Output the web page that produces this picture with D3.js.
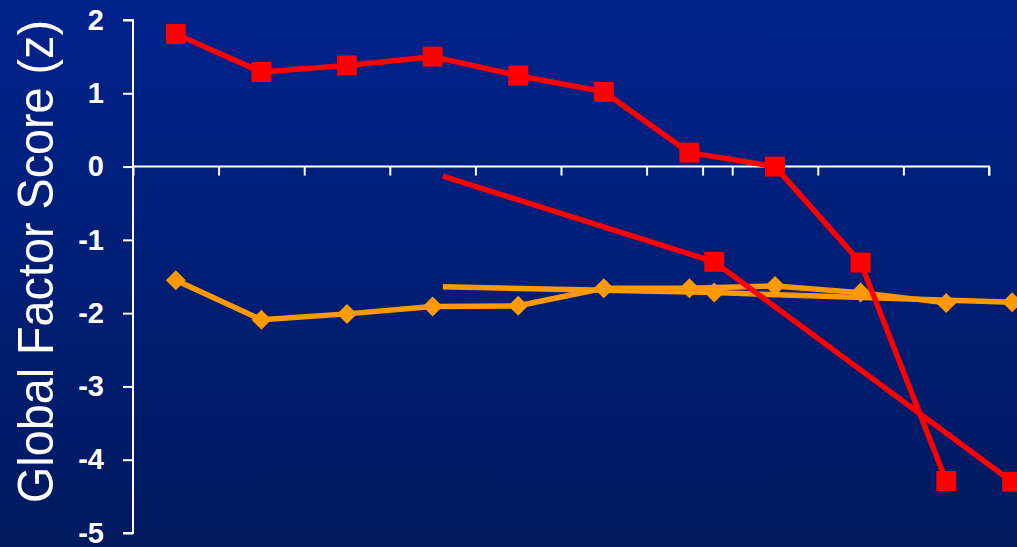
<!DOCTYPE html>
<html>
<head>
<meta charset="utf-8">
<script src="https://cdn.jsdelivr.net/npm/d3@7"></script>
<style>
  html, body { margin: 0; padding: 0; overflow: hidden; }
  body { width: 1017px; height: 547px; }
</style>
</head>
<body>
<div id="chart"></div>
<script>
// category slots along x (10 groups)
const slots = [0, 1, 2, 3, 4, 5, 6, 7, 8, 9];
const yTicks = [2, 1, 0, -1, -2, -3, -4, -5];

// main series, one value per slot
const redValues = [1.81, 1.29, 1.38, 1.50, 1.24, 1.02, 0.19, 0.0, -1.31, -4.29];
const orangeValues = [-1.55, -2.09, -2.01, -1.91, -1.90, -1.66, -1.66, -1.63, -1.72, -1.86];

// overlaid second set, placed on the same x scale (fractional positions)
const trendX = [3.62, 6.79, 10.27];
const redTrend = [-0.13, -1.30, -4.30];
const orangeTrend = [-1.64, -1.72, -1.85];
const trendMarked = [false, true, true];
const trendTick = 6.66;

const width = 1017;
const height = 547;

const svg = d3.select("#chart").append("svg")
  .attr("width", width).attr("height", height);

// background gradient
const grad = svg.append("defs").append("linearGradient")
  .attr("id", "bg").attr("x1", 0).attr("y1", 0).attr("x2", 0).attr("y2", 1);
grad.append("stop").attr("offset", "0%").attr("stop-color", "#00238c");
grad.append("stop").attr("offset", "100%").attr("stop-color", "#00195e");
svg.append("rect").attr("width", width).attr("height", height).attr("fill", "url(#bg)");

// scales
const x = d3.scaleLinear().domain([0, 10]).range([133, 989]);
const y = d3.scaleLinear().domain([2, -5]).range([20, 533]);

// y axis
const yAxis = svg.append("g")
  .attr("transform", "translate(" + x(0) + ",0)")
  .call(d3.axisLeft(y).tickValues(yTicks).tickSize(10).tickPadding(19).tickFormat(d => String(d)));
yAxis.select(".domain").attr("stroke", "#fff").attr("stroke-width", 2).attr("d", "M-10," + y(2) + "H0V" + y(-5) + "H-10");
yAxis.selectAll(".tick line").attr("stroke", "#fff").attr("stroke-width", 2);
yAxis.selectAll(".tick text")
  .attr("fill", "#fff")
  .style("font-family", "'Liberation Sans', Arial, sans-serif")
  .style("font-weight", "bold")
  .style("font-size", "29px");

// x axis along zero line
const xAxis = svg.append("g")
  .attr("transform", "translate(0," + y(0) + ")")
  .call(d3.axisBottom(x).tickValues(d3.range(0, 11)).tickSize(9).tickFormat(""));
xAxis.select(".domain").attr("stroke", "#fff").attr("stroke-width", 2).attr("d", "M" + x(0) + ",0H" + x(10) + "V9");
xAxis.selectAll(".tick line").attr("stroke", "#fff").attr("stroke-width", 2);

// extra tick from the overlaid axis
svg.append("line")
  .attr("x1", x(trendTick)).attr("x2", x(trendTick))
  .attr("y1", y(0)).attr("y2", y(0) + 9)
  .attr("stroke", "#fff").attr("stroke-width", 2);

// y label
svg.append("text")
  .attr("transform", "translate(53," + ((20 + 503) / 2) + ") rotate(-90)")
  .attr("text-anchor", "middle")
  .attr("fill", "#fff")
  .attr("textLength", 483)
  .attr("lengthAdjust", "spacingAndGlyphs")
  .style("font-family", "'Liberation Sans', Arial, sans-serif")
  .style("font-size", "50px")
  .text("Global Factor Score (z)");

const line = d3.line().x(d => d[0]).y(d => d[1]);

function drawSeries(xs, vals, color, kind, marked) {
  const pts = xs.map((v, i) => [x(v), y(vals[i])]);
  svg.append("path")
    .attr("d", line(pts))
    .attr("fill", "none")
    .attr("stroke", color)
    .attr("stroke-width", 5.5)
    .attr("stroke-linejoin", "round");
  const sym = d3.symbol().type(d3.symbolSquare).size(kind === "square" ? 400 : 200);
  svg.append("g").selectAll("path")
    .data(pts.filter((p, i) => marked[i]))
    .enter().append("path")
    .attr("transform", d => "translate(" + d[0] + "," + d[1] + ")" + (kind === "diamond" ? " rotate(45)" : ""))
    .attr("d", sym)
    .attr("fill", color);
}

const centers = slots.map(s => s + 0.5);
const allMarked = slots.map(() => true);

drawSeries(trendX, orangeTrend, "#ff9900", "diamond", trendMarked);
drawSeries(centers, orangeValues, "#ff9900", "diamond", allMarked);
drawSeries(trendX, redTrend, "#ff0000", "square", trendMarked);
drawSeries(centers, redValues, "#ff0000", "square", allMarked);
</script>
</body>
</html>
